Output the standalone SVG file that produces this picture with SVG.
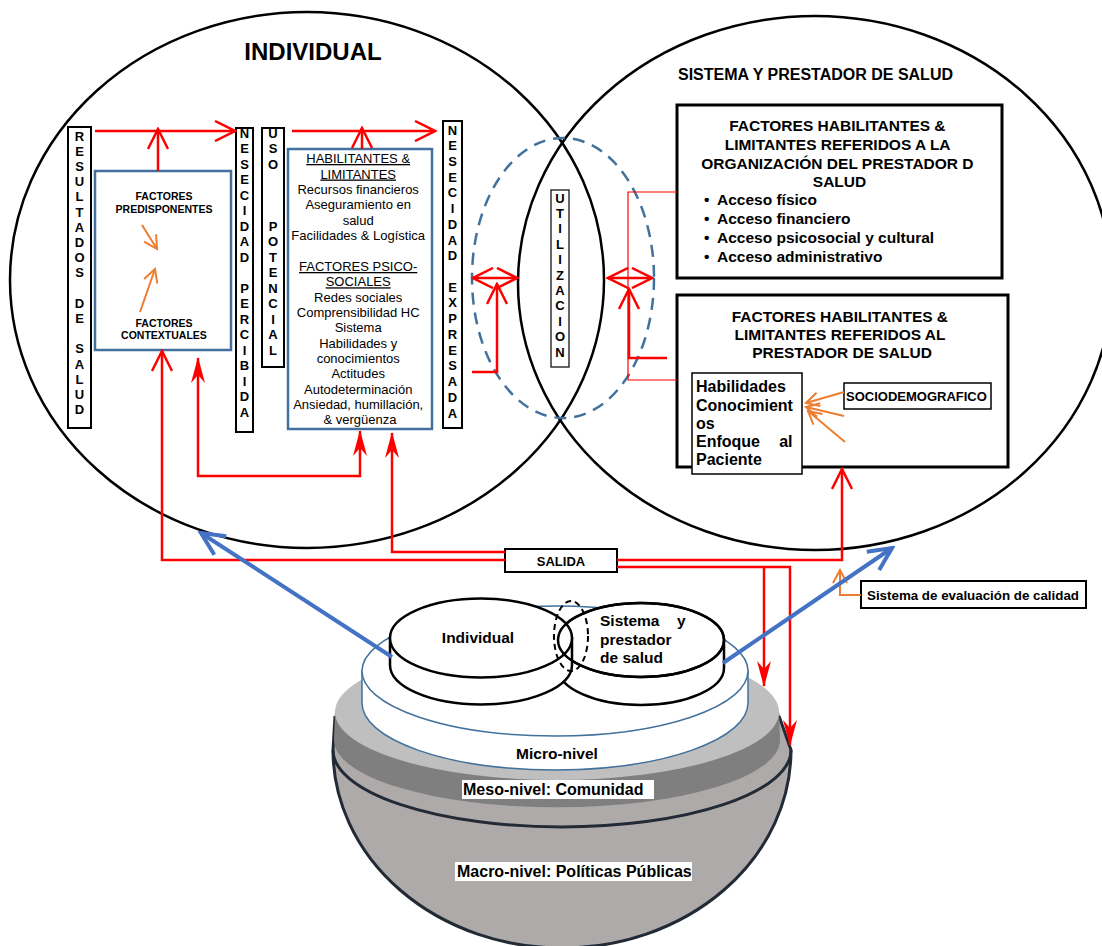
<svg xmlns="http://www.w3.org/2000/svg" width="1102" height="946" viewBox="0 0 1102 946">
  <style>
    text { font-family: "Liberation Sans", Arial, sans-serif; fill: #000; }
    .b { font-weight: bold; }
    .vl { font-weight: bold; font-size: 13px; text-anchor: middle; }
    .mid { text-anchor: middle; }
    .frame { fill: #fff; stroke: #000; stroke-width: 2; }
    .thick { fill: #fff; stroke: #000; stroke-width: 3; }
    .bluebox { fill: #fff; stroke: #41719c; stroke-width: 2.5; }
    .red { fill: none; stroke: #ff0000; stroke-width: 2.5; }
    .redthin { fill: none; stroke: #ff0000; stroke-width: 1.2; }
    .orange { fill: none; stroke: #ed7d31; stroke-width: 2; }
    .bluearrow { fill: none; stroke: #4472c4; stroke-width: 4; }
    .disk { fill: #fff; stroke: #000; stroke-width: 2.5; }
    .dark { fill: none; stroke: #222a35; stroke-width: 3; }
  </style>
  <defs>
    <marker id="openRed" viewBox="0 0 24 22" refX="22" refY="11" markerWidth="24" markerHeight="22" markerUnits="userSpaceOnUse" orient="auto-start-reverse">
      <path d="M2,1 L22,11 L2,21" fill="none" stroke="#ff0000" stroke-width="2.5"/>
    </marker>
    <marker id="stealthRed" viewBox="0 0 26 16" refX="25" refY="8" markerWidth="26" markerHeight="16" markerUnits="userSpaceOnUse" orient="auto-start-reverse">
      <path d="M0,1 L26,8 L0,15 L8,8 Z" fill="#ff0000"/>
    </marker>
    <marker id="openBlue" viewBox="0 0 28 26" refX="25" refY="13" markerWidth="28" markerHeight="26" markerUnits="userSpaceOnUse" orient="auto">
      <path d="M2,2 L25,13 L2,24" fill="none" stroke="#4472c4" stroke-width="4"/>
    </marker>
    <marker id="openOrange" viewBox="0 0 16 16" refX="14" refY="8" markerWidth="16" markerHeight="16" markerUnits="userSpaceOnUse" orient="auto">
      <path d="M1,1 L14,8 L1,15" fill="none" stroke="#ed7d31" stroke-width="2"/>
    </marker>
  </defs>

  <rect width="1102" height="946" fill="#fff"/>

  <!-- the two overlapping spheres -->
  <g id="spheres" fill="none" stroke="#000" stroke-width="2.5">
    <ellipse cx="307" cy="280" rx="297" ry="268"/>
    <ellipse cx="815" cy="283" rx="297" ry="267"/>
  </g>

  <g id="title-individual">
    <text class="b mid" x="313" y="59.5" font-size="24">INDIVIDUAL</text>
  </g>
  <g id="title-sistema">
    <text class="b" x="678" y="80" font-size="16">SISTEMA Y PRESTADOR DE SALUD</text>
  </g>

  <!-- outcome column -->
  <g id="resultados">
    <rect class="frame" x="68" y="127" width="23" height="301"/>
    <text class="vl">
      <tspan x="79.5" y="140.5">R</tspan><tspan x="79.5" y="155.7">E</tspan><tspan x="79.5" y="170.9">S</tspan><tspan x="79.5" y="186.1">U</tspan><tspan x="79.5" y="201.3">L</tspan><tspan x="79.5" y="216.5">T</tspan><tspan x="79.5" y="231.7">A</tspan><tspan x="79.5" y="246.9">D</tspan><tspan x="79.5" y="262.1">O</tspan><tspan x="79.5" y="277.3">S</tspan><tspan x="79.5" y="307.7">D</tspan><tspan x="79.5" y="322.9">E</tspan><tspan x="79.5" y="353.3">S</tspan><tspan x="79.5" y="368.5">A</tspan><tspan x="79.5" y="383.7">L</tspan><tspan x="79.5" y="398.9">U</tspan><tspan x="79.5" y="414.1">D</tspan>
    </text>
  </g>

  <g id="factores">
    <rect class="bluebox" x="95" y="171" width="136" height="179" stroke-width="2"/>
    <text class="b mid" font-size="10.5"><tspan x="164" y="200">FACTORES</tspan><tspan x="164" y="212.7">PREDISPONENTES</tspan></text>
    <text class="b mid" font-size="10.5"><tspan x="164" y="326.7">FACTORES</tspan><tspan x="164" y="339.3">CONTEXTUALES</tspan></text>
    <path class="orange" d="M142,225 L157,249" marker-end="url(#openOrange)"/>
    <path class="orange" d="M140,312 L155,269" marker-end="url(#openOrange)"/>
  </g>

  <g id="necesidad-percibida">
    <rect class="frame" x="236" y="128" width="17" height="304"/>
    <text class="vl">
      <tspan x="244.5" y="137.5">N</tspan><tspan x="244.5" y="153">E</tspan><tspan x="244.5" y="168.5">S</tspan><tspan x="244.5" y="184">E</tspan><tspan x="244.5" y="199.5">C</tspan><tspan x="244.5" y="215">I</tspan><tspan x="244.5" y="230.5">D</tspan><tspan x="244.5" y="246">A</tspan><tspan x="244.5" y="261.5">D</tspan><tspan x="244.5" y="292.5">P</tspan><tspan x="244.5" y="308">E</tspan><tspan x="244.5" y="323.5">R</tspan><tspan x="244.5" y="339">C</tspan><tspan x="244.5" y="354.5">I</tspan><tspan x="244.5" y="370">B</tspan><tspan x="244.5" y="385.5">I</tspan><tspan x="244.5" y="401">D</tspan><tspan x="244.5" y="416.5">A</tspan>
    </text>
  </g>

  <g id="uso-potencial">
    <rect class="frame" x="262" y="128" width="22" height="239"/>
    <text class="vl">
      <tspan x="273" y="137.5">U</tspan><tspan x="273" y="153">S</tspan><tspan x="273" y="168.5">O</tspan><tspan x="273" y="230.5">P</tspan><tspan x="273" y="246">O</tspan><tspan x="273" y="261.5">T</tspan><tspan x="273" y="277">E</tspan><tspan x="273" y="292.5">N</tspan><tspan x="273" y="308">C</tspan><tspan x="273" y="323.5">I</tspan><tspan x="273" y="339">A</tspan><tspan x="273" y="354.5">L</tspan>
    </text>
  </g>

  <g id="habilitantes" font-size="13">
    <rect class="bluebox" x="288" y="149" width="144" height="280"/>
    <text class="mid">
      <tspan x="360" y="163" text-decoration="underline">HABILITANTES &amp;</tspan>
      <tspan x="360" y="178.5" text-decoration="underline">LIMITANTES</tspan>
      <tspan x="360" y="194">Recursos financieros</tspan>
      <tspan x="360" y="209.3">Aseguramiento en</tspan>
      <tspan x="360" y="224.6">salud</tspan>
      <tspan x="360" y="240">Facilidades &amp; Logística</tspan>
      <tspan x="360" y="271" text-decoration="underline">FACTORES PSICO-</tspan>
      <tspan x="360" y="286.3" text-decoration="underline">SOCIALES</tspan>
      <tspan x="360" y="301.6">Redes sociales</tspan>
      <tspan x="360" y="317">Comprensibilidad HC</tspan>
      <tspan x="360" y="332.3">Sistema</tspan>
      <tspan x="360" y="347.6">Habilidades y</tspan>
      <tspan x="360" y="363">conocimientos</tspan>
      <tspan x="360" y="378.3">Actitudes</tspan>
      <tspan x="360" y="393.6">Autodeterminación</tspan>
      <tspan x="360" y="409">Ansiedad, humillación,</tspan>
      <tspan x="360" y="424.3">&amp; vergüenza</tspan>
    </text>
  </g>

  <g id="necesidad-expresada">
    <rect class="frame" x="443" y="121" width="19" height="307"/>
    <text class="vl">
      <tspan x="452.5" y="134.5">N</tspan><tspan x="452.5" y="150.2">E</tspan><tspan x="452.5" y="165.9">S</tspan><tspan x="452.5" y="181.7">E</tspan><tspan x="452.5" y="197.4">C</tspan><tspan x="452.5" y="213.1">I</tspan><tspan x="452.5" y="228.8">D</tspan><tspan x="452.5" y="244.5">A</tspan><tspan x="452.5" y="260.3">D</tspan><tspan x="452.5" y="291.7">E</tspan><tspan x="452.5" y="307.4">X</tspan><tspan x="452.5" y="323.1">P</tspan><tspan x="452.5" y="338.9">R</tspan><tspan x="452.5" y="354.6">E</tspan><tspan x="452.5" y="370.3">S</tspan><tspan x="452.5" y="386">A</tspan><tspan x="452.5" y="401.7">D</tspan><tspan x="452.5" y="417.5">A</tspan>
    </text>
  </g>

  <!-- overlap zone -->
  <g id="zona-utilizacion">
    <ellipse cx="563" cy="278" rx="91" ry="140" fill="none" stroke="#41719c" stroke-width="2.5" stroke-dasharray="12 8"/>
  </g>
  <g id="utilizacion">
    <rect x="551" y="190" width="18" height="177" fill="#fff" stroke="#000" stroke-width="1.2"/>
    <text class="vl">
      <tspan x="560" y="202.5">U</tspan><tspan x="560" y="217.9">T</tspan><tspan x="560" y="233.3">I</tspan><tspan x="560" y="248.7">L</tspan><tspan x="560" y="264.1">I</tspan><tspan x="560" y="279.5">Z</tspan><tspan x="560" y="294.9">A</tspan><tspan x="560" y="310.3">C</tspan><tspan x="560" y="325.7">I</tspan><tspan x="560" y="341.1">O</tspan><tspan x="560" y="356.5">N</tspan>
    </text>
  </g>

  <g id="organizacion">
    <rect class="thick" x="677" y="105" width="325" height="173"/>
    <text class="b mid" font-size="15.5">
      <tspan x="839.5" y="131">FACTORES HABILITANTES &amp;</tspan>
      <tspan x="839.5" y="150">LIMITANTES REFERIDOS A LA</tspan>
      <tspan x="839.5" y="168.5">ORGANIZACIÓN DEL PRESTADOR D</tspan>
      <tspan x="839.5" y="187">SALUD</tspan>
    </text>
    <text class="b" font-size="15.5">
      <tspan x="704" y="205">•</tspan><tspan x="717" y="205">Acceso físico</tspan>
      <tspan x="704" y="224">•</tspan><tspan x="717" y="224">Acceso financiero</tspan>
      <tspan x="704" y="243">•</tspan><tspan x="717" y="243">Acceso psicosocial y cultural</tspan>
      <tspan x="704" y="262">•</tspan><tspan x="717" y="262">Acceso administrativo</tspan>
    </text>
  </g>

  <g id="prestador">
    <rect class="thick" x="677" y="295" width="331" height="172"/>
    <text class="b mid" font-size="15.5">
      <tspan x="842" y="322">FACTORES HABILITANTES &amp;</tspan>
      <tspan x="842" y="340">LIMITANTES REFERIDOS AL</tspan>
      <tspan x="842" y="358">PRESTADOR DE SALUD</tspan>
    </text>
  </g>
  <g id="habilidades">
    <rect x="692" y="373" width="110" height="101" fill="#fff" stroke="#000" stroke-width="1.5"/>
    <text class="b" font-size="16">
      <tspan x="696" y="392">Habilidades</tspan>
      <tspan x="696" y="410.5">Conocimient</tspan>
      <tspan x="696" y="428.5">os</tspan>
      <tspan x="696" y="447">Enfoque</tspan><tspan x="797" y="447" text-anchor="end">al</tspan>
      <tspan x="696" y="465">Paciente</tspan>
    </text>
  </g>
  <g id="sociodemografico">
    <rect x="844" y="383" width="147" height="26" fill="#fff" stroke="#000" stroke-width="1.5"/>
    <text class="b" x="846" y="401" font-size="13">SOCIODEMOGRAFICO</text>
    <path class="orange" d="M844,392 L806,403" marker-end="url(#openOrange)"/>
    <path class="orange" d="M844,416 L806,407" marker-end="url(#openOrange)"/>
    <path class="orange" d="M845,442 L808,411" marker-end="url(#openOrange)"/>
  </g>

  <!-- layered base: macro, meso, micro -->
  <g id="macro-nivel">
    <path d="M335,712 L333,750 A229,198 0 0 0 791,750 L779,712 Z" fill="#aeaaaa"/>
    <path d="M333,750 A229,77 0 0 0 791,750" class="dark" stroke-width="2.5"/>
    <path d="M335,716 L333,750 A229,198 0 0 0 791,750 L779,716" class="dark"/>
    <rect x="455" y="862" width="237" height="19" fill="#fff"/>
    <text class="b" x="457" y="877" font-size="16">Macro-nivel: Políticas Públicas</text>
  </g>
  <g id="meso-nivel">
    <path d="M335,712 L334,740 A222,67 0 0 0 780,740 L779,712 Z" fill="#7f7f7f"/>
    <ellipse cx="557" cy="712" rx="222" ry="68" fill="#bfbfbf"/>
    <rect x="462" y="780" width="192" height="19" fill="#fff"/>
    <text class="b" x="463" y="795" font-size="16">Meso-nivel: Comunidad</text>
  </g>
  <g id="micro-nivel">
    <path d="M362,671 L362,703 A193,67 0 0 0 748,703 L748,671 Z" fill="#fff" stroke="#41719c" stroke-width="1.5"/>
    <ellipse cx="555" cy="671" rx="193" ry="65" fill="#fff" stroke="#41719c" stroke-width="1.5"/>
    <text class="b mid" x="557" y="759" font-size="15.5">Micro-nivel</text>
  </g>

  <g id="disco-sistema">
    <path class="disk" d="M558,640 L558,668 A83,37 0 0 0 724,668 L724,640 Z"/>
    <ellipse class="disk" cx="641" cy="640" rx="83" ry="37"/>
  </g>
  <g id="disco-individual">
    <path class="disk" d="M390,638 L390,665 A91,39.5 0 0 0 572,665 L572,638 Z"/>
    <ellipse class="disk" cx="481" cy="638" rx="91" ry="39.5"/>
    <ellipse cx="641" cy="640" rx="83" ry="37" fill="none" stroke="#000" stroke-width="2.5"/>
    <ellipse cx="571" cy="636" rx="17" ry="35" fill="none" stroke="#000" stroke-width="2" stroke-dasharray="6 4"/>
    <text class="b mid" x="478" y="643" font-size="15.5">Individual</text>
    <text class="b" font-size="15.5">
      <tspan x="600" y="626">Sistema</tspan><tspan x="677" y="626">y</tspan>
      <tspan x="600" y="644.5">prestador</tspan>
      <tspan x="600" y="663">de salud</tspan>
    </text>
  </g>

  <g id="salida">
    <rect class="frame" x="505" y="549" width="112" height="23" stroke-width="2.5"/>
    <text class="b mid" x="561" y="566" font-size="13">SALIDA</text>
  </g>
  <g id="evaluacion">
    <rect class="frame" x="861" y="581" width="225" height="27" stroke-width="2.5"/>
    <text class="b" x="867" y="599.5" font-size="12.5" textLength="212" lengthAdjust="spacingAndGlyphs">Sistema de evaluación de calidad</text>
  </g>

  <!-- connectors -->
  <g id="connectors">
    <path class="red" d="M95,131 L235,131" marker-end="url(#openRed)"/>
    <path class="red" d="M158,171 L158,129" marker-end="url(#openRed)"/>
    <path class="red" d="M292,131 L435,131" marker-end="url(#openRed)"/>
    <path class="red" d="M362,149 L362,128" marker-end="url(#openRed)"/>

    <path class="red" d="M505,560 L162,560 L162,351" marker-end="url(#openRed)"/>
    <path class="red" d="M505,552 L392,552 L392,433" marker-end="url(#stealthRed)"/>
    <path class="red" d="M198,358 L198,476 L360,476 L360,431" marker-start="url(#stealthRed)" marker-end="url(#stealthRed)"/>

    <path class="red" d="M473,278 L517,278" marker-start="url(#openRed)" marker-end="url(#openRed)"/>
    <path class="red" d="M472,372 L497,372 L497,284" marker-end="url(#openRed)"/>
    <path class="red" d="M608,278 L652,278" marker-start="url(#openRed)" marker-end="url(#openRed)"/>
    <path class="redthin" d="M677,192 L628,192 L628,380 L677,380"/>
    <path class="red" d="M667,358 L629,358 L629,289" marker-end="url(#openRed)"/>

    <path class="red" d="M617,560 L842,560 L842,469" marker-end="url(#openRed)"/>
    <path class="red" d="M617,567 L790,567 L790,745" marker-end="url(#stealthRed)"/>
    <path class="red" d="M764,567 L764,686" marker-end="url(#stealthRed)"/>

    <path class="orange" d="M861,595 L840,595 L840,570" marker-end="url(#openOrange)"/>

    <path class="bluearrow" d="M392,657 L201,533" marker-end="url(#openBlue)"/>
    <path class="bluearrow" d="M723,663 L892,548" marker-end="url(#openBlue)"/>
  </g>
</svg>
